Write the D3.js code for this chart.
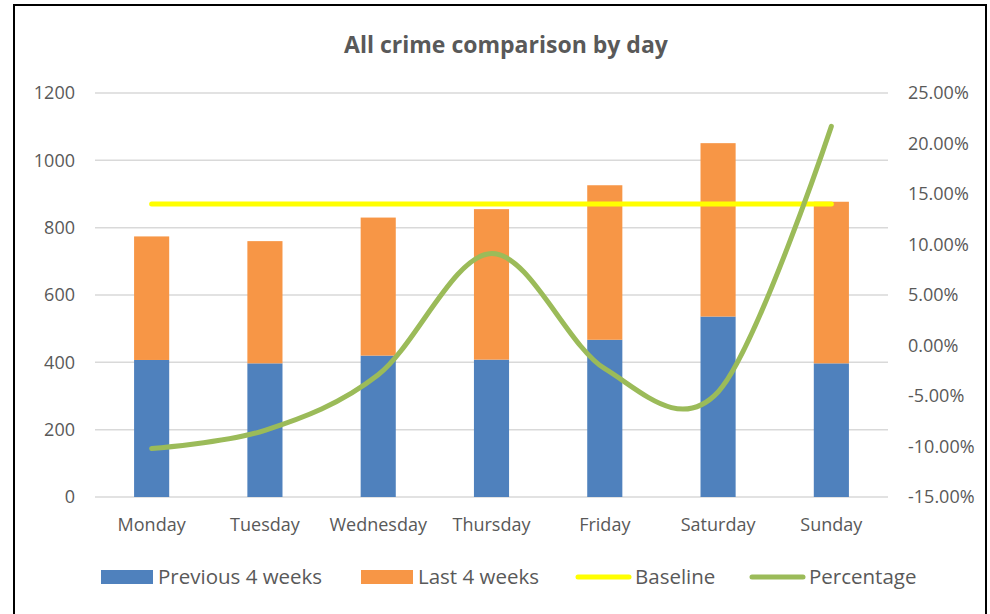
<!DOCTYPE html>
<html>
<head>
<meta charset="utf-8">
<script src="https://cdn.jsdelivr.net/npm/d3@7"></script>
<style>
    body { margin: 0; background: #fff; }
    text { font-family: "Open Sans", "Noto Sans", sans-serif; fill: #595959; }
</style>
</head>
<body>
<div id="main"></div>
<script>
const days = ["Monday", "Tuesday", "Wednesday", "Thursday", "Friday", "Saturday", "Sunday"];
const previous4 = [407, 397, 420, 408, 467, 536, 397];
const last4 = [367, 363, 410, 447, 459, 515, 480];
const percentage = [-0.102, -0.084, -0.029, 0.091, -0.023, -0.046, 0.217];
const baseline = [0.14, 0.14, 0.14, 0.14, 0.14, 0.14, 0.14];
const leftTicks = [0, 200, 400, 600, 800, 1000, 1200];
const rightTicks = [-0.15, -0.10, -0.05, 0, 0.05, 0.10, 0.15, 0.20, 0.25];
const seriesNames = ["Previous 4 weeks", "Last 4 weeks", "Baseline", "Percentage"];

const width = 990, height = 614;
const margin = {left: 95, top: 93, right: 102, bottom: 117};
const colors = {prev: "#4F81BD", last: "#F79646", base: "#FFFF00", pct: "#9BBB59"};

let svg = d3.select("#main").append("svg")
    .attr("width", width)
    .attr("height", height);

let scaleX = d3.scaleBand().domain(days)
    .range([margin.left, width - margin.right]).paddingInner(0.69).paddingOuter(0.345);
let scaleY = d3.scaleLinear().domain([0, 1200]).range([height - margin.bottom, margin.top]);
let scaleY2 = d3.scaleLinear().domain([-0.15, 0.25]).range([height - margin.bottom, margin.top]);

// chart frame
svg.append("rect")
    .attr("x", 14).attr("y", 5)
    .attr("width", 972).attr("height", 640)
    .attr("fill", "none")
    .attr("stroke", "#000")
    .attr("stroke-width", 2);

svg.append("text")
    .attr("x", 506).attr("y", 53)
    .attr("text-anchor", "middle")
    .attr("font-size", 23)
    .attr("font-weight", "bold")
    .text("All crime comparison by day");

// gridlines
svg.append("g")
    .selectAll("line")
    .data(leftTicks)
    .join("line")
    .attr("x1", margin.left).attr("x2", width - margin.right)
    .attr("y1", d => scaleY(d)).attr("y2", d => scaleY(d))
    .attr("stroke", "#D9D9D9")
    .attr("stroke-width", 1.5);

// left axis
let axisL = svg.append("g")
    .attr("transform", `translate(${margin.left},0)`)
    .call(d3.axisLeft(scaleY).tickValues(leftTicks).tickSize(0).tickPadding(20).tickFormat(d3.format("d")));
axisL.select(".domain").remove();
axisL.selectAll("text").attr("font-size", 18).attr("fill", "#595959").attr("font-family", null);

// right axis
let pctFormat = d => (d * 100).toFixed(2) + "%";
let axisR = svg.append("g")
    .attr("transform", `translate(${width - margin.right},0)`)
    .call(d3.axisRight(scaleY2).tickValues(rightTicks).tickSize(0).tickPadding(20)
        .tickFormat(pctFormat));
axisR.select(".domain").remove();
axisR.selectAll("text").attr("font-size", 18).attr("fill", "#595959").attr("font-family", null);

// category axis
let axisB = svg.append("g")
    .attr("transform", `translate(0,${height - margin.bottom})`)
    .call(d3.axisBottom(scaleX).tickSize(0).tickPadding(21));
axisB.select(".domain").remove();
axisB.selectAll("text").attr("font-size", 18).attr("fill", "#595959").attr("font-family", null);

// stacked bars
let stacked = d3.stack().keys(["prev", "last"])(days.map((d, i) => ({day: d, prev: previous4[i], last: last4[i]})));
svg.append("g")
    .selectAll("g")
    .data(stacked)
    .join("g")
    .attr("fill", d => colors[d.key])
    .selectAll("rect")
    .data(d => d)
    .join("rect")
    .attr("x", d => scaleX(d.data.day))
    .attr("width", scaleX.bandwidth())
    .attr("y", d => scaleY(d[1]))
    .attr("height", d => scaleY(d[0]) - scaleY(d[1]));

let cx = d => scaleX(d) + scaleX.bandwidth() / 2;

svg.append("path")
    .datum(baseline)
    .attr("fill", "none")
    .attr("stroke", colors.base)
    .attr("stroke-width", 5)
    .attr("stroke-linecap", "round")
    .attr("d", d3.line().x((d, i) => cx(days[i])).y(d => scaleY2(d)));

svg.append("path")
    .datum(percentage)
    .attr("fill", "none")
    .attr("stroke", colors.pct)
    .attr("stroke-width", 5)
    .attr("stroke-linecap", "round")
    .attr("stroke-linejoin", "round")
    .attr("d", d3.line()
        .curve(d3.curveCardinal.tension(0))
        .x((d, i) => cx(days[i]))
        .y(d => scaleY2(d)));

// legend
const legendX = [101, 361, 576, 750];
let legend = svg.append("g").attr("transform", "translate(0,577)");
seriesNames.forEach(function (name, i) {
    let x = legendX[i];
    if (i < 2) {
        legend.append("rect")
            .attr("x", x).attr("y", -7)
            .attr("width", 52).attr("height", 14)
            .attr("fill", i == 0 ? colors.prev : colors.last);
    } else {
        legend.append("line")
            .attr("x1", x + 2).attr("x2", x + 53)
            .attr("stroke", i == 2 ? colors.base : colors.pct)
            .attr("stroke-width", 5)
            .attr("stroke-linecap", "round");
    }
    legend.append("text")
        .attr("x", x + (i < 2 ? 57 : 59))
        .attr("y", 7)
        .attr("font-size", 20.5)
        .text(name);
});
</script>
</body>
</html>
